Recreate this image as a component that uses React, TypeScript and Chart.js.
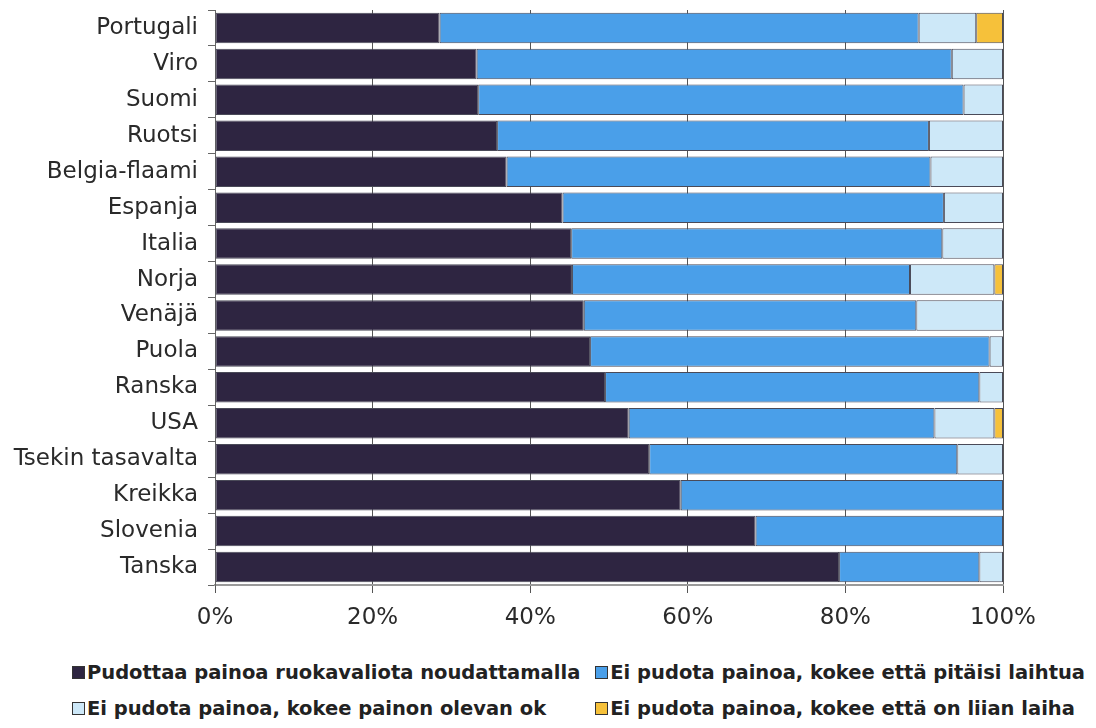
import React, { useEffect, useRef } from "react";
import { Chart, registerables } from "chart.js";

Chart.register(...registerables);

const categories = [
  "Portugali",
  "Viro",
  "Suomi",
  "Ruotsi",
  "Belgia-flaami",
  "Espanja",
  "Italia",
  "Norja",
  "Venäjä",
  "Puola",
  "Ranska",
  "USA",
  "Tsekin tasavalta",
  "Kreikka",
  "Slovenia",
  "Tanska",
];

const dietValues = [28.5, 33.2, 33.4, 35.8, 37.0, 44.1, 45.2, 45.3, 46.8, 47.6, 49.5, 52.5, 55.1, 59.1, 68.6, 79.2];
const shouldLoseValues = [60.8, 60.3, 61.6, 54.8, 53.8, 48.4, 47.1, 42.9, 42.2, 50.7, 47.5, 38.8, 39.1, 40.9, 31.4, 17.8];
const weightOkValues = [7.3, 6.5, 5.0, 9.4, 9.2, 7.5, 7.7, 10.7, 11.0, 1.7, 3.0, 7.6, 5.8, 0, 0, 3.0];
const tooThinValues = [3.4, 0, 0, 0, 0, 0, 0, 1.1, 0, 0, 0, 1.1, 0, 0, 0, 0];

const xTickValues = [0, 20, 40, 60, 80, 100];

const seriesLabels = [
  "Pudottaa painoa ruokavaliota noudattamalla",
  "Ei pudota painoa, kokee että pitäisi laihtua",
  "Ei pudota painoa, kokee painon olevan ok",
  "Ei pudota painoa, kokee että on liian laiha",
];
const seriesColors = ["#2e2541", "#4a9fe9", "#cde8f8", "#f6c13a"];

const FONT = "'DejaVu Sans', Verdana, sans-serif";

export default function App() {
  const ref = useRef<HTMLCanvasElement>(null);

  useEffect(() => {
    const seriesValues = [dietValues, shouldLoseValues, weightOkValues, tooThinValues];
    const chart = new Chart(ref.current as HTMLCanvasElement, {
      type: "bar",
      data: {
        labels: categories,
        datasets: seriesValues.map((vals, i) => ({
          label: seriesLabels[i],
          data: vals,
          backgroundColor: seriesColors[i],
          borderColor: "#4a4a58",
          borderWidth: 1,
          borderSkipped: false,
          barPercentage: 0.85,
          categoryPercentage: 1,
        })),
      },
      options: {
        indexAxis: "y",
        animation: false,
        responsive: false,
        layout: { padding: { top: 2, right: 85, bottom: 0, left: 0 } },
        plugins: {
          legend: { display: false },
          tooltip: { enabled: false },
        },
        scales: {
          x: {
            stacked: true,
            min: 0,
            max: 100,
            afterBuildTicks: (s: any) => {
              s.ticks = xTickValues.map((v) => ({ value: v }));
            },
            afterFit: (s: any) => {
              s.height = 63;
              s.paddingLeft = 0;
              s.paddingRight = 0;
            },
            ticks: {
              callback: (v: any) => v + "%",
              font: { family: FONT, size: 23 },
              color: "#2a2a2a",
              padding: 11,
              maxRotation: 0,
            },
            grid: {
              color: "#555",
              lineWidth: 1,
              tickLength: 8,
              drawOnChartArea: true,
            },
            border: { color: "#9a9a9a", width: 2 },
          },
          y: {
            stacked: true,
            afterFit: (s: any) => {
              s.width = 207;
              s.paddingTop = 0;
              s.paddingBottom = 0;
            },
            ticks: {
              font: { family: FONT, size: 23 },
              color: "#2a2a2a",
              padding: 10,
            },
            grid: {
              drawOnChartArea: false,
              tickLength: 7,
              color: "#666",
              offset: true,
            },
            border: { color: "#666", width: 1 },
          },
        },
      },
    });
    return () => chart.destroy();
  }, []);

  const legendItem = (i: number) => (
    <div key={i} style={{ display: "flex", alignItems: "center", whiteSpace: "nowrap" }}>
      <span
        style={{
          display: "inline-block",
          width: 11,
          height: 11,
          background: seriesColors[i],
          border: "1px solid #333",
          marginRight: 2,
        }}
      />
      <span>{seriesLabels[i]}</span>
    </div>
  );

  return (
    <div style={{ position: "relative", width: 1080, height: 720 }}>
      <canvas ref={ref} width={1080} height={640} style={{ display: "block" }} />
      <div
        style={{
          position: "absolute",
          top: 646,
          right: 3,
          display: "grid",
          gridTemplateColumns: "auto auto",
          columnGap: 15,
          gridAutoRows: "36px",
          alignItems: "center",
          fontFamily: FONT,
          fontWeight: "bold",
          fontSize: 19.5,
          color: "#222",
        }}
      >
        {[0, 1, 2, 3].map((i) => legendItem(i))}
      </div>
    </div>
  );
}
